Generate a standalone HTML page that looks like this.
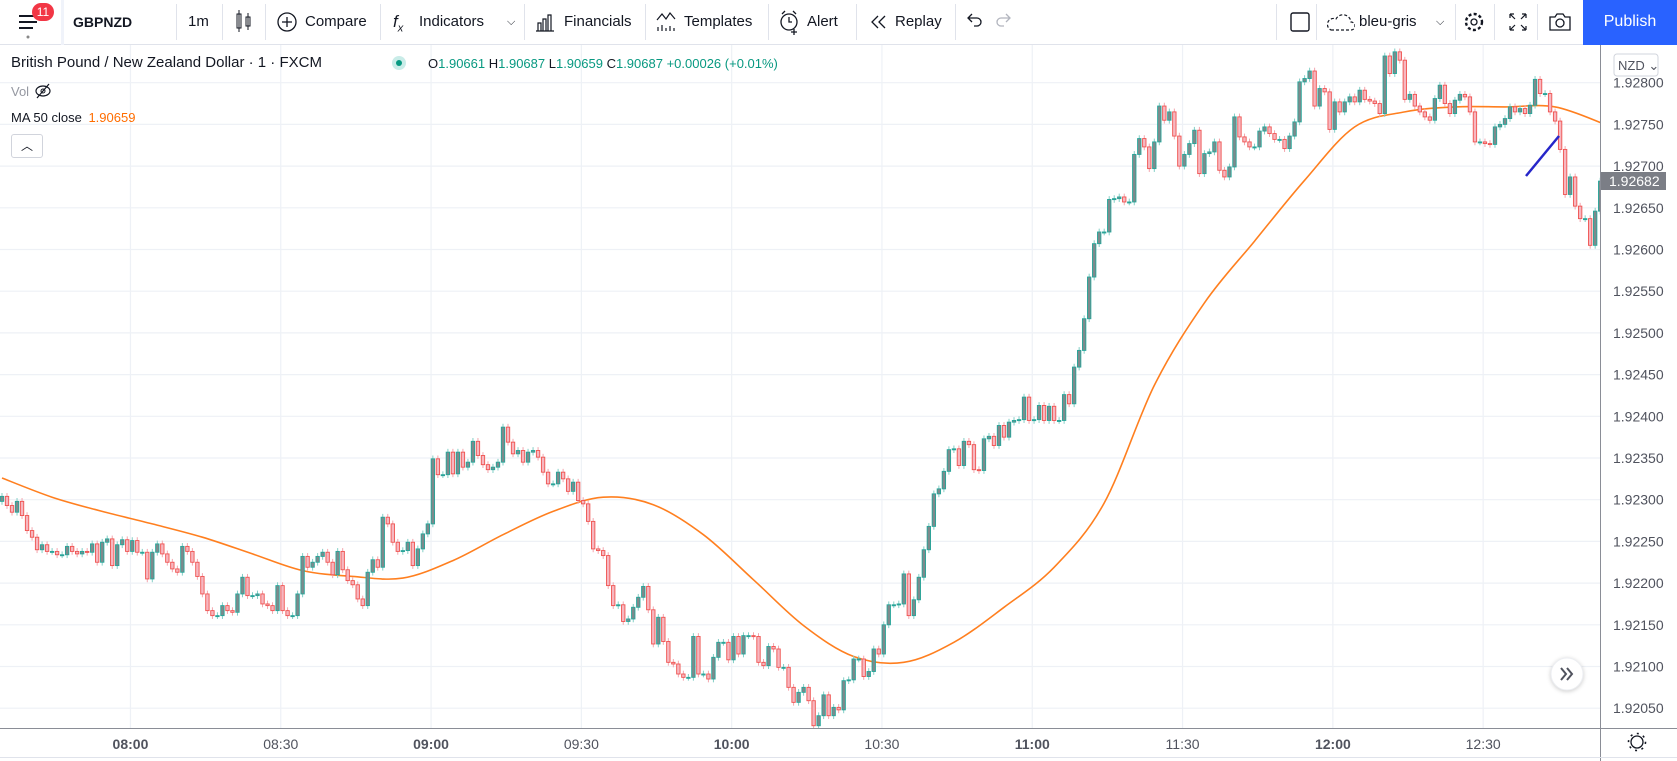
<!DOCTYPE html>
<html><head><meta charset="utf-8">
<style>
body{margin:0;width:1677px;height:761px;overflow:hidden;background:#fff;font-family:"Liberation Sans",sans-serif;color:#131722;position:relative}
#tb{position:absolute;left:0;top:0;width:1677px;height:45px;border-bottom:1px solid #e0e3eb;box-sizing:border-box;background:#fff}
.ti{position:absolute;top:0;height:44px;line-height:44px;font-size:15px;color:#131722;white-space:nowrap}
.sep{position:absolute;top:4px;width:1px;height:36px;background:#e0e3eb}
#chart{position:absolute;left:0;top:0}
</style></head><body>
<div id="tb">
  <div class="ti" style="left:18px">
    <svg width="22" height="44"><rect x="1" y="15" width="18" height="2" fill="#131722"/><rect x="1" y="21" width="18" height="2" fill="#131722"/><rect x="1" y="27" width="14" height="2" fill="#131722"/><circle cx="10" cy="37" r="1.5" fill="#888"/></svg>
  </div>
  <div style="position:absolute;left:32px;top:3px;width:22px;height:18px;border-radius:9px;background:#f23645;color:#fff;font-size:12px;line-height:18px;text-align:center">11</div>
  <div class="sep" style="left:61px;width:3px;top:0;height:45px;background:#f0f3fa"></div>
  <div class="ti" style="left:73px;font-weight:bold;font-size:14px">GBPNZD</div>
  <div class="sep" style="left:176px"></div>
  <div class="ti" style="left:188px">1m</div>
  <div class="sep" style="left:222px"></div>
  <div class="ti" style="left:235px"><svg width="18" height="44"><rect x="2" y="14" width="4" height="14" fill="none" stroke="#131722"/><line x1="4" y1="10" x2="4" y2="32" stroke="#131722"/><rect x="11" y="17" width="4" height="9" fill="none" stroke="#131722"/><line x1="13" y1="13" x2="13" y2="30" stroke="#131722"/></svg></div>
  <div class="sep" style="left:265px"></div>
  <div class="ti" style="left:276px"><svg width="24" height="44" style="vertical-align:top"><circle cx="11" cy="22" r="9" fill="none" stroke="#131722" stroke-width="1.3"/><line x1="11" y1="17" x2="11" y2="27" stroke="#131722" stroke-width="1.3"/><line x1="6" y1="22" x2="16" y2="22" stroke="#131722" stroke-width="1.3"/></svg><span style="position:absolute;left:29px">Compare</span></div>
  <div class="sep" style="left:380px"></div>
  <div class="ti" style="left:393px;font-style:italic;font-size:17px">f<sub style="font-size:11px">x</sub></div>
  <div class="ti" style="left:419px">Indicators</div>
  <div class="ti" style="left:507px;font-size:11px">⌵</div>
  <div class="sep" style="left:524px"></div>
  <div class="ti" style="left:534px"><svg width="22" height="44" style="vertical-align:top"><path d="M2 31h18M4 31v-8h3v8M9 31v-12h3v12M14 31v-16h3v16" fill="none" stroke="#131722" stroke-width="1.2"/></svg><span style="position:absolute;left:30px">Financials</span></div>
  <div class="sep" style="left:645px"></div>
  <div class="ti" style="left:655px"><svg width="22" height="44" style="vertical-align:top"><path d="M2 20l5-6 4 5 4-6 5 6" fill="none" stroke="#131722" stroke-width="1.2"/><path d="M3 31v-4M7 31v-6M11 31v-3M15 31v-5M19 31v-3" stroke="#131722" stroke-width="1.2"/></svg><span style="position:absolute;left:29px">Templates</span></div>
  <div class="sep" style="left:768px"></div>
  <div class="ti" style="left:778px"><svg width="24" height="44" style="vertical-align:top"><circle cx="11" cy="22" r="8" fill="none" stroke="#131722" stroke-width="1.3"/><path d="M11 17v5h3M4 14l3-3M18 14l-3-3M16 29v6M13 32h6" fill="none" stroke="#131722" stroke-width="1.3"/></svg><span style="position:absolute;left:29px">Alert</span></div>
  <div class="sep" style="left:856px"></div>
  <div class="ti" style="left:868px"><svg width="22" height="44" style="vertical-align:top"><path d="M10 16l-6 6 6 6M17 16l-6 6 6 6" fill="none" stroke="#131722" stroke-width="1.3"/></svg><span style="position:absolute;left:27px">Replay</span></div>
  <div class="sep" style="left:955px"></div>
  <div class="ti" style="left:964px"><svg width="20" height="44"><path d="M5 18h8a4 4 0 0 1 0 8h-3M8 14l-4 4 4 4" fill="none" stroke="#131722" stroke-width="1.3"/></svg></div>
  <div class="ti" style="left:994px"><svg width="20" height="44"><path d="M15 18h-8a4 4 0 0 0 0 8h3M12 14l4 4-4 4" fill="none" stroke="#b2b5be" stroke-width="1.3"/></svg></div>
  <div class="sep" style="left:1276px"></div>
  <div class="ti" style="left:1289px"><svg width="22" height="44"><rect x="2" y="13" width="18" height="18" rx="2" fill="none" stroke="#131722" stroke-width="1.4"/></svg></div>
  <div class="sep" style="left:1316px"></div>
  <div class="ti" style="left:1327px"><svg width="28" height="44" style="vertical-align:top"><path d="M4 30h20a4 4 0 0 0 0-8 8 8 0 0 0-15-3 5 5 0 0 0-5 11z" fill="none" stroke="#131722" stroke-width="1.2" stroke-dasharray="3 2"/></svg><span style="position:absolute;left:32px">bleu-gris</span><span style="position:absolute;left:109px;font-size:11px">⌵</span></div>
  <div class="sep" style="left:1455px"></div>
  <div class="ti" style="left:1463px"><svg width="22" height="44"><circle cx="11" cy="22" r="3" fill="none" stroke="#131722" stroke-width="1.3"/><circle cx="11" cy="22" r="8" fill="none" stroke="#131722" stroke-width="2.4" stroke-dasharray="3 2.3"/></svg></div>
  <div class="sep" style="left:1494px"></div>
  <div class="ti" style="left:1507px"><svg width="22" height="44"><path d="M3 14l5 5M3 14h4M3 14v4M19 14l-5 5M19 14h-4M19 14v4M3 30l5-5M3 30h4M3 30v-4M19 30l-5-5M19 30h-4M19 30v-4" fill="none" stroke="#131722" stroke-width="1.2"/></svg></div>
  <div class="sep" style="left:1537px"></div>
  <div class="ti" style="left:1548px"><svg width="24" height="44"><path d="M2 17h5l2-3h6l2 3h5v13H2z" fill="none" stroke="#131722" stroke-width="1.3"/><circle cx="12" cy="23" r="4" fill="none" stroke="#131722" stroke-width="1.3"/></svg></div>
  <div style="position:absolute;left:1583px;top:0;width:94px;height:45px;background:#2962ff;color:#fff;font-size:16px;line-height:44px;text-align:center">Publish</div>
</div>

<svg id="chart" width="1677" height="761" style="top:0;left:0">
  <g id="grid"></g>
  <g id="ma"></g>
  <g id="candles"></g>
  <line x1="1526" y1="176" x2="1559" y2="136" stroke="#2626c9" stroke-width="2.5"/>
  <rect x="1601" y="46" width="76" height="682" fill="#fff"/>
  <line x1="1600.5" y1="45" x2="1600.5" y2="761" stroke="#8a8d96"/>
  <g id="yaxis"></g>
  <rect x="1614" y="54" width="44" height="22" rx="3" fill="#fff" stroke="#d1d4dc"/>
  <text x="1618" y="70" font-size="13" fill="#50535e">NZD ⌄</text>
  <rect x="1601" y="172" width="65" height="18" fill="#7b7e86"/>
  <text id="lastTxt" x="1609" y="186" font-size="14" fill="#fff"></text>
  <rect x="0" y="728" width="1677" height="33" fill="#fff"/>
  <line x1="0" y1="728.5" x2="1677" y2="728.5" stroke="#8a8d96"/>
  <line x1="1600.5" y1="728" x2="1600.5" y2="761" stroke="#8a8d96"/>
  <line x1="0" y1="757.5" x2="1677" y2="757.5" stroke="#e0e3eb"/>
  <g id="xaxis"></g>
  <g><circle cx="1637" cy="742" r="6" fill="none" stroke="#131722" stroke-width="1.3"/><circle cx="1637" cy="742" r="8.5" fill="none" stroke="#131722" stroke-width="1.6" stroke-dasharray="2 4.6"/></g>
  <g><circle cx="1567" cy="674" r="16" fill="#fff" stroke="#eceef2" style="filter:drop-shadow(0 1px 2px rgba(0,0,0,.2))"/><path d="M1561 668l5 6-5 6M1567 668l5 6-5 6" fill="none" stroke="#50535e" stroke-width="2"/></g>
</svg>

<div style="position:absolute;left:11px;top:54px;font-size:15px;color:#131722;white-space:nowrap">British Pound / New Zealand Dollar · 1 · FXCM</div>
<div style="position:absolute;left:392px;top:56px;width:14px;height:14px;border-radius:7px;background:#c9ece8"><div style="margin:4px;width:6px;height:6px;border-radius:3px;background:#089981"></div></div>
<div style="position:absolute;left:428px;top:56px;font-size:13px;color:#089981;white-space:nowrap"><span style="color:#131722">O</span>1.90661 <span style="color:#131722">H</span>1.90687 <span style="color:#131722">L</span>1.90659 <span style="color:#131722">C</span>1.90687 +0.00026 (+0.01%)</div>
<div style="position:absolute;left:11px;top:83px;font-size:13px;color:#9598a1">Vol <svg width="20" height="16" style="vertical-align:-3px"><ellipse cx="10" cy="8" rx="7" ry="5" fill="none" stroke="#131722" stroke-width="1.2"/><circle cx="10" cy="8" r="2" fill="none" stroke="#131722"/><line x1="4" y1="15" x2="16" y2="1" stroke="#131722" stroke-width="1.2"/></svg></div>
<div style="position:absolute;left:11px;top:110px;font-size:13px;color:#131722">MA 50 close <span style="color:#ff6d00;margin-left:3px">1.90659</span></div>
<div style="position:absolute;left:11px;top:134px;width:30px;height:22px;border:1px solid #d1d4dc;border-radius:3px;background:#fff;text-align:center;font-size:12px;line-height:22px">︿</div>

<script>
const closes=[192304,192293,192285,192298,192281,192263,192255,192240,192246,192238,192238,192234,192234,192244,192238,192235,192238,192237,192247,192225,
192249,192253,192221,192246,192252,192238,192251,192237,192237,192205,192237,192247,192235,192225,192217,192213,192244,192238,192225,192208,
192187,192167,192161,192161,192173,192167,192165,192187,192207,192185,192185,192187,192175,192173,192167,192197,192167,192161,192161,192187,
192232,192219,192225,192232,192237,192225,192210,192238,192216,192203,192198,192181,192173,192213,192228,192219,192279,192271,192249,192238,
192239,192249,192221,192241,192259,192271,192349,192330,192330,192357,192331,192357,192339,192345,192370,192353,192342,192336,192339,192345,
192387,192369,192355,192359,192345,192357,192359,192351,192333,192319,192319,192333,192325,192310,192321,192299,192295,192274,192241,192239,
192233,192197,192173,192174,192154,192157,192171,192183,192196,192168,192127,192159,192130,192105,192103,192091,192087,192087,192136,192091,
192091,192085,192111,192129,192129,192108,192136,192115,192137,192137,192136,192105,192101,192124,192121,192099,192099,192075,192057,192069,
192075,192059,192029,192041,192066,192041,192051,192048,192083,192084,192109,192109,192088,192094,192121,192115,192150,192174,192174,192175,
192211,192161,192180,192207,192240,192268,192307,192313,192334,192360,192361,192341,192370,192366,192336,192335,192373,192376,192365,192389,
192375,192393,192395,192396,192423,192395,192396,192413,192395,192412,192395,192395,192426,192415,192459,192479,192517,192567,192607,192621,
192621,192660,192661,192663,192657,192657,192714,192733,192723,192697,192729,192772,192755,192765,192736,192700,192714,192727,192743,192691,
192715,192717,192729,192695,192687,192699,192759,192735,192729,192723,192723,192742,192747,192739,192732,192732,192721,192736,192753,192801,
192805,192814,192772,192793,192789,192744,192777,192765,192777,192783,192777,192791,192780,192778,192775,192763,192832,192811,192837,192827,
192780,192786,192772,192765,192759,192755,192781,192797,192775,192763,192779,192786,192783,192765,192729,192729,192727,192726,192747,192750,
192757,192771,192765,192769,192763,192773,192804,192787,192787,192765,192754,192720,192666,192687,192652,192637,192637,192605,192646,192682];
const firstOpen=192298;
const maValues=[1.92326,1.92303,1.92286,1.92271,1.92255,1.92235,1.92215,1.92208,1.92206,1.92227,1.92258,1.92286,1.92303,1.92294,1.92258,1.92204,1.92149,
1.92112,1.92105,1.92129,1.92171,1.92219,1.92296,1.92437,1.92536,1.92610,1.92683,1.92747,1.92765,1.92771,1.92771,1.92771,1.92750];
const maStep=10;
const priceTicks=[1.92800,1.92750,1.92700,1.92650,1.92600,1.92550,1.92500,1.92450,1.92400,1.92350,1.92300,1.92250,1.92200,1.92150,1.92100,1.92050];
const timeTicks=["08:00","08:30","09:00","09:30","10:00","10:30","11:00","11:30","12:00","12:30"];
const timeTickMinutes=[26,56,86,116,146,176,206,236,266,296];
const lastPrice="1.92682";
const wick=0.00004;

const NS="http://www.w3.org/2000/svg";
const yOf=p=>82.7+(1.928-p)*83400;
const xOf=i=>2+i*5.01;
function mk(tag,attrs,parent){const e=document.createElementNS(NS,tag);for(const k in attrs)e.setAttribute(k,attrs[k]);parent.appendChild(e);return e;}
const grid=document.getElementById('grid'),yax=document.getElementById('yaxis'),xax=document.getElementById('xaxis');
priceTicks.forEach(p=>{const y=yOf(p);
  const g=mk('line',{x1:0,x2:1600,y1:y,y2:y,stroke:'#eef1f6','stroke-width':1.2},grid);
  
  
  const t=mk('text',{x:1613,y:y+5,'font-size':14,fill:'#50535e'},yax);t.textContent=p.toFixed(5);
  
  
});
timeTicks.forEach((s,k)=>{const x=xOf(timeTickMinutes[k])-1.8;
  const g=mk('line',{x1:x,x2:x,y1:45,y2:728,stroke:'#eef1f6','stroke-width':1.2},grid);
  
  
  const t=mk('text',{x:x,y:749,'font-size':14,fill:'#50535e','text-anchor':'middle','font-weight':s.endsWith(':00')?'bold':'normal'},xax);t.textContent=s;
  
  
});
const cg=document.getElementById('candles');
closes.forEach((cv,i)=>{const c=cv/1e5,o=(i?closes[i-1]:firstOpen)/1e5;const up=c>=o;const x=xOf(i);
  const hi=Math.max(o,c)+wick,lo=Math.min(o,c)-wick;
  const w=mk('line',{x1:x,x2:x,y1:yOf(hi),y2:yOf(lo),stroke:up?'#83cfc6':'#f3a6ae','stroke-width':1},cg);
  
  
  const yt=yOf(Math.max(o,c)),yb=yOf(Math.min(o,c));
  const b=mk('rect',{x:x-1.7,y:yt,width:3.4,height:Math.max(1,yb-yt),fill:up?'#7e8a8c':'#f7b7c0',stroke:up?'#26a69a':'#ef5350','stroke-width':0.9},cg);
  
  
});
const pts=maValues.map((v,k)=>[xOf(k*maStep),yOf(v)]);
let d='M'+pts[0][0].toFixed(1)+' '+pts[0][1].toFixed(1);
for(let k=0;k<pts.length-1;k++){
  const p0=pts[Math.max(0,k-1)],p1=pts[k],p2=pts[k+1],p3=pts[Math.min(pts.length-1,k+2)];
  const c1x=p1[0]+(p2[0]-p0[0])/6,c1y=p1[1]+(p2[1]-p0[1])/6;
  const c2x=p2[0]-(p3[0]-p1[0])/6,c2y=p2[1]-(p3[1]-p1[1])/6;
  d+='C'+c1x.toFixed(1)+' '+c1y.toFixed(1)+' '+c2x.toFixed(1)+' '+c2y.toFixed(1)+' '+p2[0].toFixed(1)+' '+p2[1].toFixed(1);
}
const ml=mk('path',{d:d,fill:'none',stroke:'#ff7f1f','stroke-width':1.6,'stroke-linejoin':'round'},document.getElementById('ma'));


document.getElementById('lastTxt').textContent=lastPrice;
</script>
</body></html>
